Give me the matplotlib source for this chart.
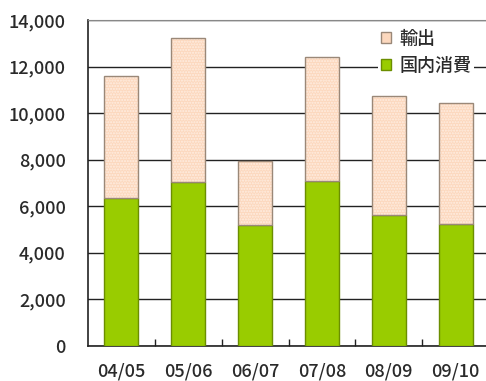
import matplotlib
matplotlib.use("Agg")
import matplotlib.pyplot as plt
import numpy as np
from matplotlib.patches import Patch

plt.rcParams["font.family"] = ["Noto Sans CJK JP", "DejaVu Sans"]

# ── Data ──────────────────────────────────────────────────────────────────────
years    = ["04/05", "05/06", "06/07", "07/08", "08/09", "09/10"]
domestic = [6350, 7050, 5200, 7100, 5620, 5230]   # 国内消費
total    = [11600, 13240, 7950, 12420, 10740, 10420]
export   = [t - d for t, d in zip(total, domestic)]  # 輸出

GREEN      = "#99CC00"
GREEN_EDGE = "#6B8E00"
PEACH      = "#FCD8BE"
PEACH_EDGE = "#9A8878"
TXT        = "#2A2A2A"

fig = plt.figure(figsize=(4.86, 3.81), dpi=100)
ax = fig.add_axes([88 / 486, 35 / 381, 401 / 486, 326 / 381])

x = np.arange(len(years))
w = 0.51

ax.bar(x, domestic, w, color=GREEN, edgecolor=GREEN_EDGE, linewidth=1.0,
       zorder=3)
# dotted fill for exports
ax.bar(x, export, w, bottom=domestic, color=PEACH, edgecolor="#FFEEE2",
       hatch="......", linewidth=0, zorder=3)
ax.bar(x, export, w, bottom=domestic, fill=False, edgecolor=PEACH_EDGE,
       linewidth=1.0, zorder=4)

ax.set_xlim(-0.5, len(years) - 0.5)
ax.set_ylim(0, 14000)
ax.set_yticks(np.arange(0, 14001, 2000))
ax.set_yticklabels([f"{v:,}" for v in range(0, 14001, 2000)])
ax.yaxis.grid(True, color="#222222", linewidth=1.0, zorder=0)
ax.tick_params(axis="y", length=0, pad=16, labelsize=13, colors=TXT)

ax.set_xticks(x)
ax.set_xticklabels(years)
ax.tick_params(axis="x", length=0, pad=12, labelsize=13, colors=TXT)
ax.set_xticks(np.arange(0.5, len(years) - 0.5), minor=True)
ax.tick_params(axis="x", which="minor", direction="in", length=5,
               color="#222222", width=1.0)
for lab in ax.get_xticklabels() + ax.get_yticklabels():
    lab.set_fontweight("medium")

for s in ["left", "bottom"]:
    ax.spines[s].set_color("#222222")
    ax.spines[s].set_linewidth(1.2)
ax.spines["top"].set_color("#888888")
ax.spines["right"].set_visible(False)

handles = [Patch(facecolor=PEACH, edgecolor=PEACH_EDGE, label="輸出"),
           Patch(facecolor=GREEN, edgecolor=GREEN_EDGE, label="国内消費")]
leg = fig.legend(handles=handles, loc="upper left",
                 bbox_to_anchor=(378 / 486, 1 - 27 / 381),
                 frameon=True, fancybox=False,
                 prop={"size": 13, "weight": "medium"},
                 handlelength=0.55, handleheight=0.55, handletextpad=0.5,
                 labelspacing=0.5, borderpad=0.15, borderaxespad=0)
leg.get_frame().set_facecolor("white")
leg.get_frame().set_edgecolor("none")
leg.get_frame().set_alpha(1)
for t in leg.get_texts():
    t.set_color(TXT)
leg.set_zorder(10)

fig.savefig("out.png", dpi=100)
